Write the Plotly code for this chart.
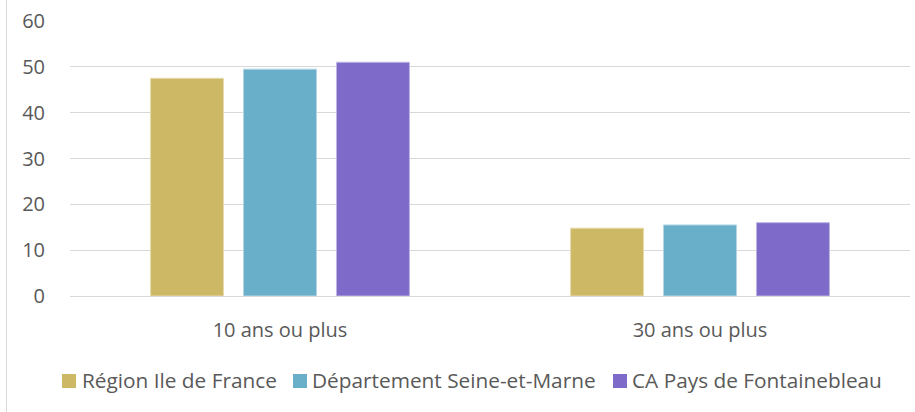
import plotly.graph_objects as go

categories = ["10 ans ou plus", "30 ans ou plus"]
series_names = ["Région Ile de France", "Département Seine-et-Marne", "CA Pays de Fontainebleau"]
region_idf = [47.5, 14.8]
dept_77 = [49.5, 15.5]
ca_fontainebleau = [51.0, 16.0]
y_ticks = [0, 10, 20, 30, 40, 50, 60]

colors = ["#CDB866", "#6AAFC9", "#7E6BC9"]
edge = ["#E6DBAE", "#B3D6E3", "#BEB4E3"]

font_family = "Open Sans, Noto Sans, sans-serif"
text_color = "#595959"
W, H = 915, 412
ml, mr, mt, mb = 70, 5, 21, 116
pw, ph = W - ml - mr, H - mt - mb

fig = go.Figure()
for name, vals, c, e in zip(series_names, [region_idf, dept_77, ca_fontainebleau], colors, edge):
    fig.add_trace(go.Bar(
        x=categories, y=vals, name=name,
        marker=dict(color=c, line=dict(color=e, width=1)),
    ))


def px_x(x):
    return (x - ml) / pw


def px_y(y):
    return (mt + ph - y) / ph


# Legend row below the axis: square swatch followed by the series name
legend_square_left = [62, 293, 613]
legend_text_left = [82, 312, 632]
legend_y = 381
shapes = [dict(
    type="line", xref="paper", yref="paper",
    x0=px_x(6.5), x1=px_x(6.5), y0=-1, y1=2,
    line=dict(color="#D9D9D9", width=1),
)]
annotations = []
for name, c, sx, tx in zip(series_names, colors, legend_square_left, legend_text_left):
    shapes.append(dict(
        type="rect", xref="paper", yref="paper",
        x0=px_x(sx), x1=px_x(sx + 14),
        y0=px_y(legend_y + 7), y1=px_y(legend_y - 7),
        fillcolor=c, line=dict(width=0),
    ))
    annotations.append(dict(
        text=name, xref="paper", yref="paper",
        x=px_x(tx - 2), y=px_y(legend_y - 1),
        xanchor="left", yanchor="middle", showarrow=False,
        font=dict(family=font_family, size=20.8, color=text_color),
    ))

fig.update_layout(
    width=W, height=H,
    margin=dict(l=ml, r=mr, t=mt, b=mb),
    paper_bgcolor="white", plot_bgcolor="white",
    barmode="group", bargap=0.336, bargroupgap=0.215,
    font=dict(family=font_family, size=20, color=text_color),
    showlegend=False,
    xaxis=dict(
        showgrid=False, showline=False, zeroline=False,
        ticks="outside", ticklen=16, tickcolor="rgba(0,0,0,0)",
        tickfont=dict(size=20, color=text_color),
    ),
    yaxis=dict(
        range=[0, 60], tickvals=y_ticks,
        showgrid=True, gridcolor="#D9D9D9", gridwidth=1,
        zeroline=True, zerolinecolor="#D9D9D9", zerolinewidth=1,
        showline=False,
        ticks="outside", ticklen=20, tickcolor="rgba(0,0,0,0)",
        tickfont=dict(size=20, color=text_color),
    ),
    shapes=shapes,
    annotations=annotations,
)

fig.write_html("out.html")
